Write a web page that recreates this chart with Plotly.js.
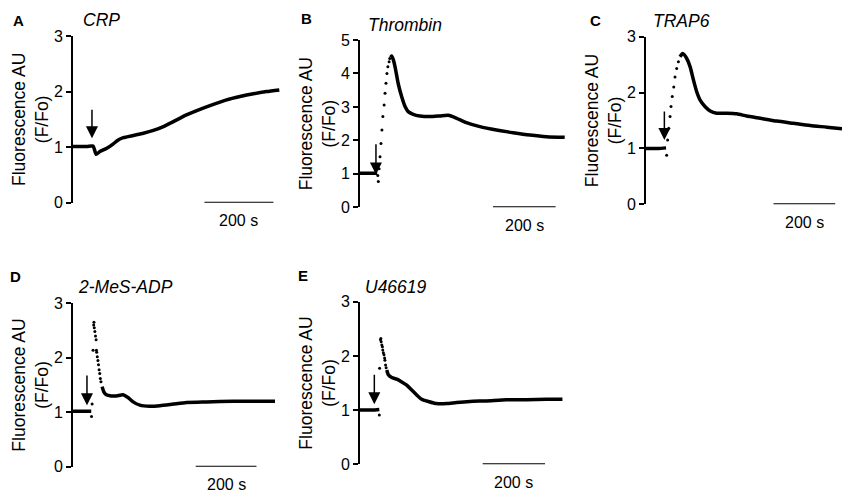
<!DOCTYPE html>
<html>
<head>
<meta charset="utf-8">
<script src="https://cdn.plot.ly/plotly-3.0.1.min.js"></script>
<style>html,body{margin:0;padding:0;background:#fff;}#chart{width:843px;height:492px;}</style>
</head>
<body>
<div id="chart"></div>
<script>
// ---------- data (time in s, fluorescence F/Fo) ----------
var panelLetters = ['A', 'B', 'C', 'D', 'E'];
var agonists = ['CRP', 'Thrombin', 'TRAP6', '2-MeS-ADP', 'U46619'];
var yMax = [3, 5, 3, 3, 3];
var tMax = [600, 655, 635, 665, 655];

// Panel A: CRP (continuous trace)
var crpT = [0, 20, 40, 58, 62, 67, 78, 98, 117, 131, 146, 175, 204, 233, 262, 291, 329, 368, 407, 445, 484, 523, 561, 598];
var crpV = [1.01, 1.01, 1.01, 1.02, 0.96, 0.87, 0.92, 0.98, 1.06, 1.13, 1.17, 1.21, 1.25, 1.30, 1.37, 1.46, 1.58, 1.68, 1.77, 1.85, 1.91, 1.96, 2.00, 2.03];
var crpDotT = [];
var crpDotV = [];

// Panel B: Thrombin
var thrT = [0, 20, 40, 55, null, 98, 101, 106, 112, 122, 133, 144, 154, 170, 191, 223, 255, 282, 309, 340, 383, 436, 489, 543, 596, 654];
var thrV = [1.02, 1.02, 1.02, 1.02, null, 4.48, 4.52, 4.42, 4.20, 3.70, 3.31, 3.01, 2.86, 2.78, 2.73, 2.71, 2.73, 2.75, 2.66, 2.53, 2.41, 2.31, 2.23, 2.16, 2.11, 2.09];
var thrDotT = [57, 58.5, 61, 64, 67, 70, 73, 77, 80, 83, 86, 89, 93, 95];
var thrDotV = [0.95, 0.77, 1.15, 1.51, 1.91, 2.31, 2.71, 3.06, 3.41, 3.71, 4.00, 4.20, 4.35, 4.45];

// Panel C: TRAP6
var trapT = [0, 20, 40, 65, null, 110, 119, 132, 143, 154, 164, 175, 191, 208, 229, 262, 294, 326, 370, 424, 478, 532, 586, 635];
var trapV = [1.00, 1.00, 1.00, 1.01, null, 2.64, 2.70, 2.61, 2.46, 2.22, 2.02, 1.87, 1.75, 1.67, 1.63, 1.63, 1.62, 1.58, 1.54, 1.49, 1.45, 1.41, 1.38, 1.35];
var trapDotT = [67, 70, 73.5, 78, 81, 85, 90, 94, 99.5, 105];
var trapDotV = [0.88, 1.15, 1.36, 1.57, 1.75, 1.93, 2.10, 2.28, 2.43, 2.55];

// Panel D: 2-MeS-ADP
var adpT = [0, 20, 40, 60, null, 96, 101, 110, 126, 143, 165, 181, 198, 220, 253, 286, 330, 374, 440, 527, 593, 665];
var adpV = [1.02, 1.02, 1.02, 1.02, null, 1.47, 1.38, 1.32, 1.30, 1.30, 1.32, 1.27, 1.19, 1.13, 1.11, 1.12, 1.15, 1.18, 1.19, 1.20, 1.20, 1.20];
var adpDotT = [61, 63, 66, 68, 69, 70, 72, 74, 76, 77, 78, 80, 82, 84, 86, 88, 90, 92];
var adpDotV = [0.92, 1.15, 2.14, 2.60, 2.65, 2.55, 2.48, 2.40, 2.33, 2.14, 2.10, 2.02, 1.95, 1.87, 1.78, 1.71, 1.62, 1.56];

// Panel E: U46619
var uT = [0, 20, 40, 62, null, 86, 91, 102, 118, 134, 150, 166, 182, 198, 219, 246, 278, 310, 353, 406, 471, 535, 599, 650];
var uV = [1.00, 1.00, 1.00, 1.01, null, 1.74, 1.65, 1.60, 1.57, 1.52, 1.46, 1.37, 1.28, 1.20, 1.16, 1.12, 1.12, 1.14, 1.16, 1.17, 1.19, 1.19, 1.20, 1.20];
var uDotT = [62, 63, 66, 67, 68, 70, 72, 73, 75, 77, 79, 80, 82, 84];
var uDotV = [0.91, 1.77, 2.30, 2.32, 2.26, 2.20, 2.17, 2.11, 2.06, 2.02, 1.96, 1.92, 1.83, 1.78];

// agonist addition arrows (time, tail value, tip value)
var arrowT = [55, 51, 59.5, 46, 46];
var arrowFrom = [1.70, 1.93, 1.69, 1.70, 1.68];
var arrowTo = [1.16, 0.98, 1.15, 1.13, 1.11];

// 200 s scale bars (start time, length)
var barStart = [381, 425, 413, 404, 394];
var barLength = 200;
var barLabel = '200 s';

var lineT = [crpT, thrT, trapT, adpT, uT];
var lineV = [crpV, thrV, trapV, adpV, uV];
var dotT = [crpDotT, thrDotT, trapDotT, adpDotT, uDotT];
var dotV = [crpDotV, thrDotV, trapDotV, adpDotV, uDotV];

// ---------- layout geometry (pixels in an 843x492 page) ----------
var W = 843, H = 492;
var xPix = [[73, 280], [360, 565], [646, 842], [73, 275], [360, 564]];
var yPix = [[36, 202.7], [40, 207.3], [36.7, 204.3], [303.3, 466.7], [301.7, 464.3]];
var letterPos = [[18, 20.5], [306, 18.3], [595, 20], [15, 276], [303, 275]];
var namePos = [[101, 19.5], [405, 24.5], [681, 21], [126, 287], [396, 287]];

function px(x) { return x / W; }
function py(y) { return 1 - y / H; }

var FONT = 'Liberation Sans, Arial, sans-serif';
var traces = [];
var layout = {
  width: W, height: H,
  margin: {l: 0, r: 0, t: 0, b: 0},
  paper_bgcolor: '#fff', plot_bgcolor: 'rgba(0,0,0,0)',
  showlegend: false,
  font: {family: FONT, color: '#000'},
  annotations: [],
  shapes: []
};

for (var i = 0; i < 5; i++) {
  var s = i === 0 ? '' : String(i + 1);
  var xa = 'x' + s, ya = 'y' + s;
  traces.push({
    x: lineT[i], y: lineV[i], xaxis: xa, yaxis: ya,
    type: 'scatter', mode: 'lines', connectgaps: false,
    line: {color: '#000', width: 3.5, shape: 'spline', smoothing: 0.6},
    hoverinfo: 'skip'
  });
  traces.push({
    x: dotT[i], y: dotV[i], xaxis: xa, yaxis: ya,
    type: 'scatter', mode: 'markers',
    marker: {color: '#000', size: 3},
    hoverinfo: 'skip'
  });
  layout['xaxis' + s] = {
    domain: [px(xPix[i][0]), px(xPix[i][1])],
    range: [0, tMax[i]], visible: false, fixedrange: true,
    anchor: ya
  };
  layout['yaxis' + s] = {
    domain: [py(yPix[i][1]), py(yPix[i][0])],
    range: [0, yMax[i]], dtick: 1, tick0: 0,
    showline: true, linecolor: '#000', linewidth: 2,
    ticks: 'outside', ticklen: 5, tickwidth: 2, tickcolor: '#000',
    tickfont: {family: FONT, size: 16, color: '#000'},
    showgrid: false, zeroline: false, fixedrange: true,
    anchor: xa,
    title: {text: 'Fluorescence AU<br>(F/Fo)', font: {family: FONT, size: 17.5, color: '#000'}}
  };
  // arrow
  layout.annotations.push({
    xref: xa, yref: ya, axref: xa, ayref: ya,
    x: arrowT[i], y: arrowTo[i], ax: arrowT[i], ay: arrowFrom[i],
    text: '', showarrow: true, arrowhead: 2, arrowsize: 1.6, arrowwidth: 1.5, arrowcolor: '#000', standoff: 0
  });
  // scale bar
  layout.shapes.push({
    type: 'line', xref: xa, yref: ya,
    x0: barStart[i], x1: barStart[i] + barLength, y0: 0, y1: 0,
    line: {color: '#000', width: 2}
  });
  layout.annotations.push({
    xref: xa, yref: ya, x: barStart[i] + barLength / 2, y: 0,
    yshift: -18, text: barLabel, showarrow: false,
    xanchor: 'center', yanchor: 'middle',
    font: {family: FONT, size: 16, color: '#000'}
  });
  // panel letter
  layout.annotations.push({
    xref: 'paper', yref: 'paper', x: px(letterPos[i][0]), y: py(letterPos[i][1]),
    xanchor: 'center', yanchor: 'middle',
    text: '<b>' + panelLetters[i] + '</b>', showarrow: false,
    font: {family: FONT, size: 15, color: '#000'}
  });
  // agonist name
  layout.annotations.push({
    xref: 'paper', yref: 'paper', x: px(namePos[i][0]), y: py(namePos[i][1]),
    xanchor: 'center', yanchor: 'middle',
    text: '<i>' + agonists[i] + '</i>', showarrow: false,
    font: {family: FONT, size: 17.5, color: '#000'}
  });
}

Plotly.newPlot('chart', traces, layout, {staticPlot: true, displayModeBar: false});
</script>
</body>
</html>
